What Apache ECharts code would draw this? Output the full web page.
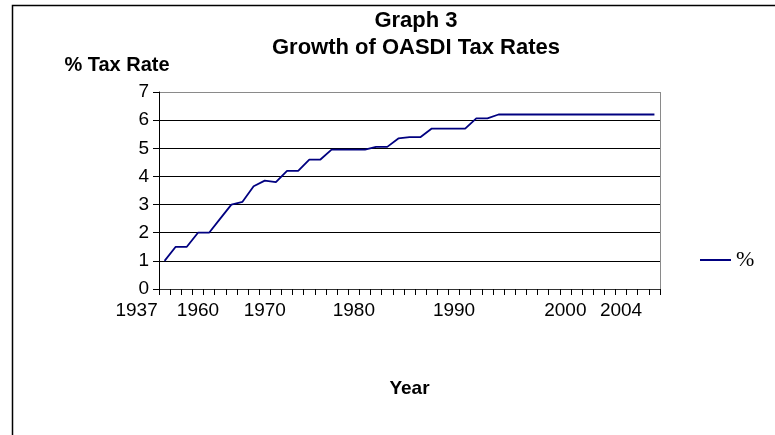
<!DOCTYPE html>
<html>
<head>
<meta charset="utf-8">
<title>Growth of OASDI Tax Rates</title>
<script src="https://cdn.jsdelivr.net/npm/echarts@6/dist/echarts.min.js"></script>
<style>
  html, body { margin: 0; padding: 0; background: #fff; }
  #chart { width: 775px; height: 435px; }
</style>
</head>
<body>
<div id="chart"></div>
<script>
// Tick labels along the category axis (blank entries show no text)
const xLabels = [
  '1937', '', '', '1960', '', '', '', '', '', '1970',
  '', '', '', '', '', '', '', '1980', '', '',
  '', '', '', '', '', '', '1990', '', '', '',
  '', '', '', '', '', '', '2000', '', '', '',
  '', '2004', '', '', ''
];

// OASDI tax rate, percent
const taxRate = [
  1.0, 1.5, 1.5, 2.0, 2.0, 2.5, 3.0, 3.1, 3.65, 3.85,
  3.8, 4.2, 4.2, 4.6, 4.6, 4.95, 4.95, 4.95, 4.95, 5.05,
  5.05, 5.35, 5.4, 5.4, 5.7, 5.7, 5.7, 5.7, 6.06, 6.06,
  6.2, 6.2, 6.2, 6.2, 6.2, 6.2, 6.2, 6.2, 6.2, 6.2,
  6.2, 6.2, 6.2, 6.2, 6.2
];

const seriesName = '%';
const yTicks = [0, 7, 1]; // min, max, step

const FONT = 'Arial, "Liberation Sans", sans-serif';
const chart = echarts.init(document.getElementById('chart'), null, { renderer: 'canvas' });

chart.setOption({
  backgroundColor: '#ffffff',
  animation: false,
  title: {
    text: 'Graph 3\nGrowth of OASDI Tax Rates',
    left: 411,
    top: 2,
    textAlign: 'center',
    textStyle: {
      fontFamily: FONT, fontSize: 22, fontWeight: 'bold', color: '#000', lineHeight: 27
    }
  },
  legend: {
    left: 695,
    top: 244,
    itemWidth: 31,
    itemHeight: 2,
    itemGap: 0,
    icon: 'rect',
    data: [seriesName],
    textStyle: { fontFamily: '"Times New Roman", "Liberation Serif", serif', fontSize: 22, color: '#000' }
  },
  grid: { left: 159, right: 115, top: 92, bottom: 146 },
  xAxis: {
    type: 'category',
    data: xLabels,
    boundaryGap: true,
    name: 'Year',
    nameLocation: 'middle',
    nameGap: 90,
    nameTextStyle: { fontFamily: FONT, fontSize: 19, fontWeight: 'bold', color: '#000' },
    axisLine: { lineStyle: { color: '#333', width: 1 } },
    axisTick: { show: true, interval: 0, length: 6, lineStyle: { color: '#000' } },
    axisLabel: {
      interval: 0,
      margin: 12,
      fontFamily: FONT,
      fontSize: 19,
      color: '#000',
      // the first label sits left of its slot, clear of the next one
      formatter: function (v, i) { return i === 0 ? '{first|' + v + '}' : v; },
      rich: { first: { fontFamily: FONT, fontSize: 19, color: '#000', padding: [0, 56, 0, 0] } }
    },
    splitLine: { show: false }
  },
  yAxis: {
    type: 'value',
    min: yTicks[0],
    max: yTicks[1],
    interval: yTicks[2],
    name: '% Tax Rate',
    nameLocation: 'end',
    nameGap: 17,
    nameTextStyle: { fontFamily: FONT, fontSize: 20, fontWeight: 'bold', color: '#000', padding: [0, 84, 0, 0] },
    axisLine: { show: true, lineStyle: { color: '#000', width: 1 } },
    axisTick: { show: true, length: 6, lineStyle: { color: '#000' } },
    axisLabel: { margin: 10, fontFamily: FONT, fontSize: 19, color: '#000' },
    splitLine: {
      show: true,
      lineStyle: { color: ['#000', '#000', '#000', '#000', '#000', '#000', '#000', '#8a8a8a'], width: 1 }
    }
  },
  series: [{
    name: seriesName,
    type: 'line',
    data: taxRate,
    showSymbol: false,
    symbol: 'none',
    lineStyle: { color: '#000080', width: 1.8 },
    itemStyle: { color: '#000080' }
  }],
  graphic: [
    // plot area right edge
    {
      type: 'line', silent: true,
      shape: { x1: 660.5, y1: 92, x2: 660.5, y2: 289 },
      style: { stroke: '#8a8a8a', lineWidth: 1 }
    },
    // outer frame
    {
      type: 'rect', silent: true, z: -1,
      shape: { x: 12.5, y: 5.5, width: 800, height: 460 },
      style: { fill: null, stroke: '#000', lineWidth: 1.5 }
    }
  ]
});
</script>
</body>
</html>
